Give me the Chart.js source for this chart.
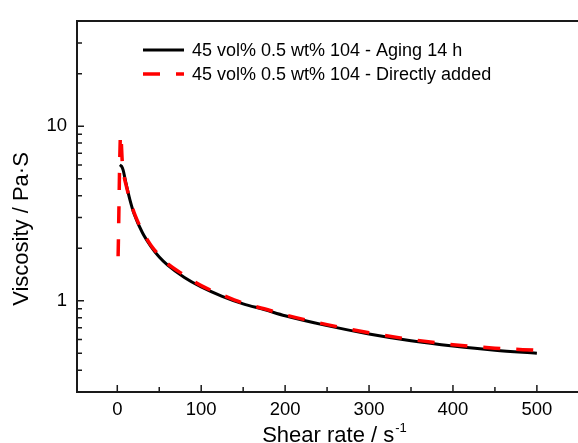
<!DOCTYPE html>
<html>
  <head>
    <meta charset="UTF-8" />
    <title>Viscosity vs shear rate</title>
    <style>
      body {
        margin: 0;
        background: #fff;
      }
    </style>
  </head>

  <body>
    <canvas id="chart" width="578" height="443"></canvas>

    <script src="https://cdn.jsdelivr.net/npm/chart.js"></script>

    <script>
      // data
      const agingLabel = "45 vol% 0.5 wt% 104 - Aging 14 h";
      const agingX = [3, 5, 7, 10, 15, 20, 30, 40, 50, 60, 80, 100, 125, 150, 175, 200, 250, 300, 350, 400, 450, 500];
      const agingY = [6.0, 5.9, 5.6, 4.8, 3.8, 3.15, 2.45, 2.05, 1.78, 1.6, 1.36, 1.2, 1.06, 0.96, 0.89, 0.82, 0.72, 0.645, 0.59, 0.55, 0.52, 0.5];

      const directLabel = "45 vol% 0.5 wt% 104 - Directly added";
      const directX = [1, 4, 6, 8, 10, 15, 20, 30, 40, 50, 60, 80, 100, 125, 150, 175, 200, 250, 300, 350, 400, 450, 500];
      const directY = [1.8, 9.0, 6.2, 5.2, 4.7, 3.8, 3.2, 2.5, 2.08, 1.82, 1.63, 1.4, 1.22, 1.08, 0.97, 0.9, 0.83, 0.73, 0.655, 0.6, 0.56, 0.535, 0.52];

      const xTicks = [0, 100, 200, 300, 400, 500];
      const yTicks = [0.3, 0.4, 0.5, 0.6, 0.7, 0.8, 0.9, 1, 2, 3, 4, 5, 6, 7, 8, 9, 10, 20, 30, 40];
      const yLabelled = [1, 10];

      const FONT = '"Liberation Sans", Arial, sans-serif';
      const INK = "#000000";

      const toPoints = (xs, ys) => xs.map((x, i) => ({ x: x, y: ys[i] }));

      // inward tick marks, frame top line, legend and axis titles
      const decor = {
        id: "decor",
        afterDraw(chart) {
          const c = chart.ctx;
          const a = chart.chartArea;
          const xs = chart.scales.x;
          const ys = chart.scales.y;

          c.save();
          c.strokeStyle = "#1a1a1a";
          c.lineWidth = 2;
          c.beginPath();
          c.moveTo(a.left - 1, a.top);
          c.lineTo(a.right, a.top);
          c.stroke();

          c.lineWidth = 1.5;
          c.beginPath();
          xs.ticks.forEach((t, i) => {
            const px = xs.getPixelForValue(t.value);
            c.moveTo(px, a.bottom);
            c.lineTo(px, a.bottom - 7);
            if (i < xs.ticks.length - 1) {
              const mid = xs.getPixelForValue((t.value + xs.ticks[i + 1].value) / 2);
              c.moveTo(mid, a.bottom);
              c.lineTo(mid, a.bottom - 5);
            }
          });
          ys.ticks.forEach((t) => {
            const py = ys.getPixelForValue(t.value);
            const len = yLabelled.includes(t.value) ? 7 : 5;
            c.moveTo(a.left, py);
            c.lineTo(a.left + len, py);
          });
          c.stroke();

          // legend
          c.font = "18px " + FONT;
          c.textBaseline = "middle";
          c.textAlign = "left";
          chart.data.datasets.forEach((ds, i) => {
            const y = 50 + i * 24;
            c.strokeStyle = ds.borderColor;
            c.lineWidth = ds.borderWidth;
            c.setLineDash(ds.borderDash || []);
            c.beginPath();
            c.moveTo(143, y);
            c.lineTo(184, y);
            c.stroke();
            c.setLineDash([]);
            c.fillStyle = INK;
            c.fillText(ds.label, 192, y + 1);
          });

          // x title with superscript
          c.fillStyle = INK;
          c.textBaseline = "alphabetic";
          c.font = "22px " + FONT;
          const main = "Shear rate / s";
          const w = c.measureText(main).width;
          c.font = "13px " + FONT;
          const sw = c.measureText("-1").width;
          const x0 = 334 - (w + sw) / 2;
          c.font = "22px " + FONT;
          c.fillText(main, x0, 442);
          c.font = "13px " + FONT;
          c.fillText("-1", x0 + w + 1, 432);

          // y title
          c.translate(28, 229);
          c.rotate(-Math.PI / 2);
          c.textAlign = "center";
          c.font = "22px " + FONT;
          c.fillText("Viscosity / Pa\u00b7S", 0, 0);
          c.restore();
        },
      };

      const config = {
        type: "line",
        data: {
          datasets: [
            {
              label: agingLabel,
              data: toPoints(agingX, agingY),
              borderColor: "#000000",
              borderWidth: 3,
              pointRadius: 0,
              fill: false,
              cubicInterpolationMode: "monotone",
              order: 1,
            },
            {
              label: directLabel,
              data: toPoints(directX, directY),
              borderColor: "#ff0000",
              borderWidth: 3.5,
              borderDash: [17, 16],
              pointRadius: 0,
              fill: false,
              cubicInterpolationMode: "monotone",
              order: 0,
            },
          ],
        },
        options: {
          responsive: false,
          animation: false,
          layout: { padding: { top: 16, right: 0, left: 0, bottom: 0 } },
          plugins: {
            legend: { display: false },
            tooltip: { enabled: false },
          },
          scales: {
            x: {
              type: "linear",
              min: -48,
              max: 549,
              afterFit: (s) => {
                s.height = 51;
              },
              afterBuildTicks: (s) => {
                s.ticks = xTicks.map((v) => ({ value: v }));
              },
              grid: { display: false, drawTicks: false },
              border: { display: true, color: "#1a1a1a", width: 2 },
              ticks: {
                color: INK,
                padding: 7,
                maxRotation: 0,
                autoSkip: false,
                font: { family: FONT, size: 18.5 },
              },
            },
            y: {
              type: "logarithmic",
              min: 0.3,
              max: 40,
              afterFit: (s) => {
                s.width = 77;
              },
              afterBuildTicks: (s) => {
                s.ticks = yTicks.map((v) => ({ value: v }));
              },
              grid: { display: false, drawTicks: false },
              border: { display: true, color: "#1a1a1a", width: 2 },
              ticks: {
                color: INK,
                padding: 10,
                autoSkip: false,
                font: { family: FONT, size: 18.5 },
                callback: (v) => (yLabelled.includes(v) ? String(v) : ""),
              },
            },
          },
        },
        plugins: [decor],
      };

      const chart = new Chart(document.getElementById("chart"), config);
    </script>
  </body>
</html>
